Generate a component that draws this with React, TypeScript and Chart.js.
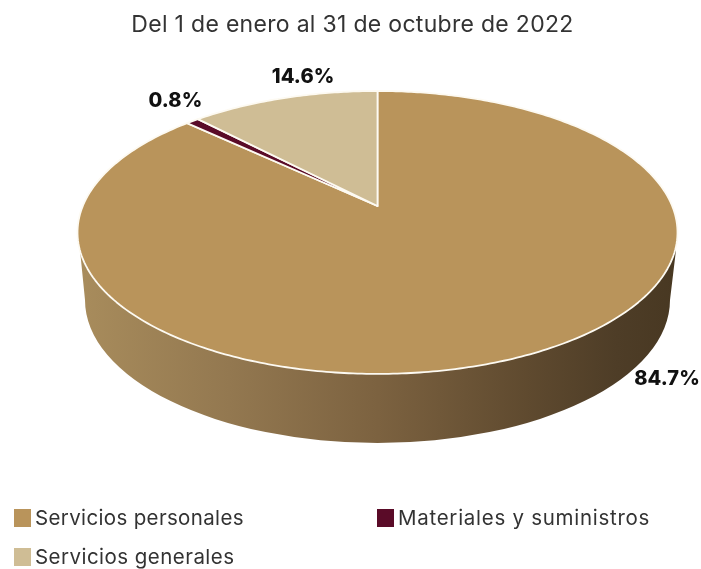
import React, { useEffect, useRef } from "react";
import { Chart, registerables } from "chart.js";

Chart.register(...registerables);

const categories = ["Servicios personales", "Materiales y suministros", "Servicios generales"];
const shares = [84.7, 0.8, 14.6];
const shareLabels = ["84.7%", "0.8%", "14.6%"];
const colours = ["#b9945b", "#5a0b28", "#cfbd95"];
const titleText = "Del 1 de enero al 31 de octubre de 2022";

const FONT = "Inter, 'Open Sans', sans-serif";
const APEX = { x: 377.5, y: 206 };
const K = -0.187;
const A = 136.5;
const B = 294.7;
const WARP = 0.735;

function project(alpha: number) {
  // alpha: canvas angle given by the library; mapped on the tilted disc
  const t = alpha + Math.PI / 2;
  let u = Math.sin(t) * WARP;
  let v = -Math.cos(t);
  const m = Math.hypot(u, v);
  u /= m;
  v /= m;
  const d = 1 + K * v;
  return { x: APEX.x + (B * u) / d, y: APEX.y + (A * v) / d };
}

const wallPlugin = {
  id: "wall",
  beforeDraw(chart: any) {
    chart.ctx.letterSpacing = "0.3px";
  },
  beforeDatasetsDraw(chart: any) {
    const ctx = chart.ctx;
    ctx.save();
    const g = ctx.createLinearGradient(80, 0, 676, 0);
    g.addColorStop(0, "#a88c5c");
    g.addColorStop(0.25, "#937850");
    g.addColorStop(0.5, "#7c6240");
    g.addColorStop(0.75, "#5f4a2f");
    g.addColorStop(0.9, "#4e3d27");
    g.addColorStop(1, "#483822");
    ctx.fillStyle = g;
    ctx.beginPath();
    ctx.moveTo(80, 250);
    ctx.lineTo(85, 300);
    ctx.ellipse(377.5, 300, 292.5, 143, 0, Math.PI, 0, true);
    ctx.lineTo(676, 250);
    ctx.closePath();
    ctx.fill();
    ctx.restore();
  },
};

const discPlugin = {
  id: "disc",
  beforeDatasetDraw(chart: any, args: any) {
    const ctx = chart.ctx;
    const arcs = args.meta.data;
    ctx.save();
    ctx.lineJoin = "round";
    arcs.forEach((arc: any, i: number) => {
      const { startAngle, endAngle } = arc.getProps(["startAngle", "endAngle"], true);
      ctx.beginPath();
      ctx.moveTo(APEX.x, APEX.y);
      const steps = Math.max(2, Math.ceil((endAngle - startAngle) * 60));
      for (let s = 0; s <= steps; s++) {
        const p = project(startAngle + ((endAngle - startAngle) * s) / steps);
        ctx.lineTo(p.x, p.y);
      }
      ctx.closePath();
      ctx.fillStyle = colours[i];
      ctx.fill();
      ctx.strokeStyle = "#fdfaf2";
      ctx.lineWidth = 1.8;
      ctx.stroke();
    });
    ctx.restore();
    return false;
  },
};

const textPlugin = {
  id: "texts",
  afterDraw(chart: any) {
    const ctx = chart.ctx;
    const arcs = chart.getDatasetMeta(0).data;
    ctx.save();
    ctx.letterSpacing = "0.1px";
    ctx.font = `800 20px ${FONT}`;
    ctx.fillStyle = "#111111";
    ctx.textAlign = "center";
    ctx.textBaseline = "middle";
    arcs.forEach((arc: any, i: number) => {
      const { startAngle, endAngle } = arc.getProps(["startAngle", "endAngle"], true);
      const p = project((startAngle + endAngle) / 2);
      const off = i === 0 ? { x: 161, y: 19 } : i === 1 ? { x: -17, y: -20 } : { x: 11, y: -20 };
      ctx.fillText(shareLabels[i], p.x + off.x, p.y + off.y);
    });
    // legend
    const slots = [
      { x: 14, y: 518, spacing: "0.35px" },
      { x: 377, y: 518, spacing: "0.72px" },
      { x: 14, y: 557, spacing: "0.46px" },
    ];
    ctx.font = `400 20.5px ${FONT}`;
    ctx.textAlign = "left";
    categories.forEach((c, i) => {
      ctx.fillStyle = colours[i];
      ctx.fillRect(slots[i].x, slots[i].y - 9, 17, 18);
      ctx.fillStyle = "#333333";
      ctx.letterSpacing = slots[i].spacing;
      ctx.fillText(c, slots[i].x + 21, slots[i].y + 1);
    });
    ctx.restore();
  },
};

export default function App() {
  const ref = useRef<HTMLCanvasElement>(null);
  useEffect(() => {
    document.body.style.margin = "0";
    const chart = new Chart(ref.current as HTMLCanvasElement, {
      type: "pie",
      data: {
        labels: categories,
        datasets: [{ data: shares, backgroundColor: colours, borderColor: "#ffffff" }],
      },
      options: {
        responsive: false,
        animation: false,
        layout: { padding: { left: 4 } },
        plugins: {
          legend: { display: false },
          tooltip: { enabled: false },
          title: {
            display: true,
            text: titleText,
            color: "#333333",
            font: { family: FONT, size: 23, weight: "400" },
            padding: { top: 11, bottom: 10 },
          },
        },
      },
      plugins: [wallPlugin, discPlugin, textPlugin],
    } as any);
    return () => chart.destroy();
  }, []);
  return <canvas ref={ref} width={701} height={569} style={{ display: "block" }} />;
}
